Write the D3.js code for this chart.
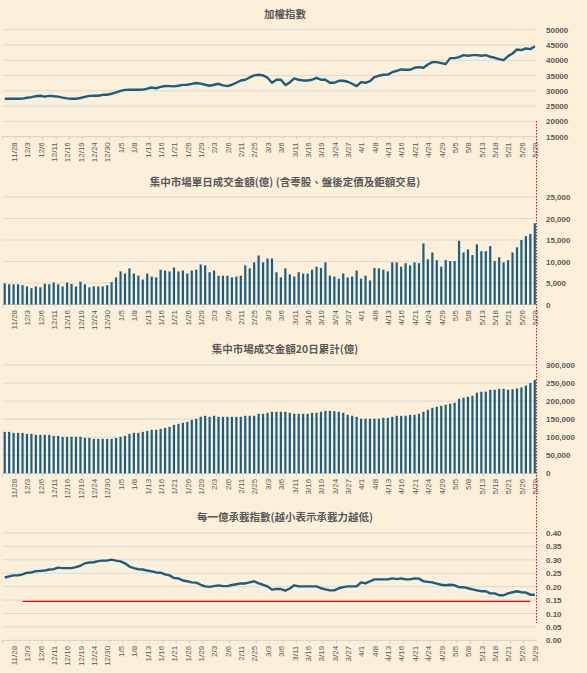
<!DOCTYPE html>
<html>
<head>
<meta charset="utf-8">
<script src="https://cdn.jsdelivr.net/npm/d3@7"></script>
<style>
body { margin: 0; background: #fdf0da; }
svg { display: block; }
</style>
</head>
<body>
<div id="chart"></div>
<script>
// trading days, one label every 3rd day
var dates = ["11/26","11/27","11/28","11/29","12/2","12/3","12/4","12/5","12/6","12/9",
    "12/10","12/11","12/12","12/13","12/16","12/17","12/18","12/19","12/20","12/23",
    "12/24","12/26","12/27","12/30","12/31","1/2","1/5","1/6","1/7","1/8",
    "1/9","1/12","1/13","1/14","1/15","1/16","1/19","1/20","1/21","1/22",
    "1/23","1/26","1/27","1/28","1/29","1/30","2/2","2/3","2/4","2/5",
    "2/6","2/9","2/10","2/11","2/12","2/24","2/25","2/26","3/2","3/3",
    "3/4","3/5","3/6","3/9","3/10","3/11","3/12","3/13","3/16","3/17",
    "3/18","3/19","3/20","3/23","3/24","3/25","3/26","3/27","3/30","3/31",
    "4/1","4/2","4/7","4/8","4/9","4/10","4/13","4/14","4/15","4/16",
    "4/17","4/20","4/21","4/22","4/23","4/24","4/27","4/28","4/29","4/30",
    "5/4","5/5","5/6","5/7","5/8","5/11","5/12","5/13","5/14","5/15",
    "5/18","5/19","5/20","5/21","5/22","5/25","5/26","5/27","5/28","5/29"];

// 加權指數
var taiex = [27400,27400,27400,27400,27450,27740,27950,28250,28400,28100,
    28350,28250,28100,27800,27550,27400,27400,27650,28000,28350,
    28400,28400,28700,28720,29050,29500,30000,30300,30360,30360,
    30360,30400,30700,31100,30850,31300,31600,31550,31450,31650,
    31950,32000,32300,32550,32350,31990,31660,31990,32310,31770,
    31550,31990,32640,33400,33620,34380,35040,35260,35040,34270,
    32640,33620,33620,31880,32750,34060,33620,33400,33400,33620,
    34270,33620,33620,32640,32640,33290,33290,32970,32310,31550,
    32860,32640,33180,34490,34930,35260,35300,36100,36560,37000,
    36890,36890,37540,37760,37540,38630,39390,39390,39070,38740,
    40700,40700,41030,41680,41460,41680,41680,41460,41680,41140,
    40810,40370,40050,41350,42220,43530,43310,43860,43640,44620];

// 單日成交金額(億)
var dailyTurnover = [4900,4700,4700,4700,4500,4200,3800,4200,4000,4800,
    4700,5100,4700,4200,5100,4800,4200,5300,4700,4000,
    4200,4200,4200,4500,5200,6300,7700,7200,8400,7200,
    6700,5800,7200,6500,6300,8100,7900,7700,8600,7700,
    7900,7200,7900,8100,9300,9100,7500,7900,6700,6700,
    6700,6300,6500,6700,9100,8400,9800,11400,9800,10700,
    10700,7500,6300,8400,7000,6500,7500,7200,7200,8100,
    8800,8500,9800,6700,6500,6000,7200,6300,6500,7900,
    6000,6700,5600,8500,8400,8100,7700,9800,9800,8800,
    9600,9100,9800,9600,14200,10500,12100,10300,8800,10300,
    10100,10100,14800,12100,12800,11500,14000,12400,12400,13600,
    10100,11000,9800,10300,12100,13300,15000,15900,16400,18900];

// 20日累計(億)
var turnover20 = [114800,114800,112000,112000,112000,109300,109300,106500,106500,106500,
    106500,103700,103700,101000,101000,101000,101000,101000,98200,98200,
    95400,95400,95400,95400,95400,98200,101000,103700,109300,112000,
    112000,114800,117600,120400,120400,123200,126000,128700,134300,137000,
    139800,142600,148200,151000,156500,159300,156500,159300,156500,156500,
    156500,156500,156500,156500,159300,159300,159300,164800,164800,167600,
    170400,170400,170400,170400,167600,165000,164800,164800,164800,167600,
    167600,170400,173000,173000,172000,170400,167600,162000,159300,156500,
    151000,151000,151000,151000,151000,153700,153700,156500,159300,159300,
    159300,162000,162000,164800,170400,176000,181500,184300,187000,189800,
    192600,195400,206500,209300,212000,214800,223100,226000,226000,231500,
    231500,234200,234200,231500,233000,235000,238000,243000,250000,259000];

// 每一億承載指數
var loadIndex = [0.234,0.238,0.242,0.242,0.246,0.252,0.253,0.258,0.259,0.260,
    0.264,0.265,0.271,0.269,0.269,0.269,0.273,0.278,0.287,0.290,
    0.291,0.295,0.297,0.297,0.301,0.297,0.294,0.287,0.275,0.269,
    0.265,0.264,0.260,0.257,0.253,0.252,0.246,0.242,0.232,0.231,
    0.223,0.220,0.216,0.215,0.207,0.201,0.199,0.202,0.205,0.202,
    0.202,0.206,0.209,0.212,0.212,0.216,0.220,0.212,0.207,0.201,
    0.189,0.191,0.191,0.185,0.193,0.205,0.201,0.201,0.201,0.201,
    0.201,0.194,0.190,0.186,0.186,0.194,0.198,0.201,0.201,0.201,
    0.216,0.212,0.220,0.227,0.227,0.227,0.227,0.231,0.228,0.231,
    0.227,0.227,0.231,0.230,0.220,0.218,0.216,0.211,0.207,0.205,
    0.207,0.205,0.198,0.198,0.194,0.190,0.186,0.183,0.183,0.175,
    0.175,0.168,0.168,0.175,0.179,0.183,0.179,0.178,0.170,0.170];

// red reference line in the last panel
var threshold = 0.145;
var thresholdFrom = "12/2";
var thresholdTo = "5/28";

var titles = ["加權指數",
    "集中市場單日成交金額(億) (含零股、盤後定價及鉅額交易)",
    "集中市場成交金額20日累計(億)",
    "每一億承載指數(越小表示承載力越低)"];

var labelDates = dates.filter(function (d, i) { return i % 3 === 2; });

var blue = "#1b5f80";
var grey = "#595959";
var numFont = "'Liberation Sans', Arial, sans-serif";
var cjkFont = "'Noto Sans CJK TC', 'Noto Sans CJK SC', sans-serif";

var svg = d3.select("#chart").append("svg")
    .attr("width", 587).attr("height", 673);

svg.append("rect").attr("width", 587).attr("height", 673).attr("fill", "#fdf0da");

var x = d3.scalePoint().domain(dates).range([4.7, 534.8]);
var step = x.step();
var left = 2.5, right = 537;

var panels = [
    { title: titles[0], values: taiex, type: "line", domain: [15000, 50000], range: [136.7, 29.7],
      tick: 5000, format: d3.format("d"), titleY: 14 },
    { title: titles[1], values: dailyTurnover, type: "bar", domain: [0, 25000], range: [304.5, 197],
      tick: 5000, format: d3.format(","), titleY: 182 },
    { title: titles[2], values: turnover20, type: "bar", domain: [0, 300000], range: [473.3, 365],
      tick: 50000, format: d3.format(","), titleY: 349 },
    { title: titles[3], values: loadIndex, type: "line", domain: [0, 0.40], range: [640.3, 533],
      tick: 0.05, format: d3.format(".2f"), titleY: 517 }
];

panels.forEach(function (p, k) {
    var g = svg.append("g");
    var y = d3.scaleLinear().domain(p.domain).range(p.range);
    var ticks = d3.range(p.domain[0], p.domain[1] + p.tick / 2, p.tick);

    // gridlines
    g.selectAll(".grid")
        .data(ticks.slice(1))
        .enter()
        .append("line")
        .attr("x1", left).attr("x2", right)
        .attr("y1", function (d) { return y(d); })
        .attr("y2", function (d) { return y(d); })
        .attr("stroke", "#d9d9d9").attr("stroke-width", 1);

    // base line with small ticks
    var base = y(p.domain[0]);
    g.append("line")
        .attr("x1", left).attr("x2", right)
        .attr("y1", base).attr("y2", base)
        .attr("stroke", "#cfcfcf").attr("stroke-width", 1);
    g.selectAll(".xtick")
        .data(dates.filter(function (d, i) { return i % 3 === 0; }))
        .enter()
        .append("line")
        .attr("x1", function (d) { return x(d) - step / 2; })
        .attr("x2", function (d) { return x(d) - step / 2; })
        .attr("y1", base).attr("y2", base + 3)
        .attr("stroke", "#cfcfcf");

    // y labels on the right
    var yAxis = g.append("g")
        .attr("transform", "translate(" + right + ",0)")
        .call(d3.axisRight(y).tickValues(ticks).tickSize(0).tickPadding(9).tickFormat(p.format));
    yAxis.select(".domain").remove();
    yAxis.selectAll("text")
        .attr("fill", grey)
        .style("font-family", numFont)
        .style("font-size", "8px")
        .style("font-weight", "bold");

    // x labels, rotated
    var xAxis = g.append("g")
        .attr("transform", "translate(0," + base + ")")
        .call(d3.axisBottom(x).tickValues(labelDates).tickSize(0));
    xAxis.select(".domain").remove();
    xAxis.selectAll("text")
        .attr("transform", "rotate(-90)")
        .attr("x", -5.5).attr("y", 0).attr("dy", "0.35em")
        .style("text-anchor", "end")
        .attr("fill", grey)
        .style("font-family", numFont)
        .style("font-size", "8px");

    if (p.type === "bar") {
        g.selectAll(".bar")
            .data(p.values)
            .enter()
            .append("rect")
            .attr("x", function (d, i) { return x(dates[i]) - 1.1; })
            .attr("width", 2.2)
            .attr("y", function (d) { return y(d); })
            .attr("height", function (d) { return base - y(d); })
            .attr("fill", blue);
    } else {
        var line = d3.line()
            .x(function (d, i) { return x(dates[i]); })
            .y(function (d) { return y(d); });
        g.append("path")
            .datum(p.values)
            .attr("d", line)
            .attr("fill", "none")
            .attr("stroke", blue)
            .attr("stroke-width", 2.4)
            .attr("stroke-linejoin", "round");
    }

    if (k === 3) {
        g.append("line")
            .attr("x1", x(thresholdFrom)).attr("x2", x(thresholdTo))
            .attr("y1", y(threshold)).attr("y2", y(threshold))
            .attr("stroke", "#f00000").attr("stroke-width", 1.2);
    }

    g.append("text")
        .attr("x", 285).attr("y", p.titleY)
        .attr("dy", "0.35em")
        .attr("text-anchor", "middle")
        .attr("fill", grey)
        .style("font-family", cjkFont)
        .style("font-size", "10.5px")
        .style("font-weight", "bold")
        .text(p.title);
});

// red dotted marker at the right edge
svg.append("line")
    .attr("x1", 536.5).attr("x2", 536.5)
    .attr("y1", 121).attr("y2", 623)
    .attr("stroke", "#ff0000").attr("stroke-width", 1)
    .attr("stroke-dasharray", "1.5,1.5");
</script>
</body>
</html>
